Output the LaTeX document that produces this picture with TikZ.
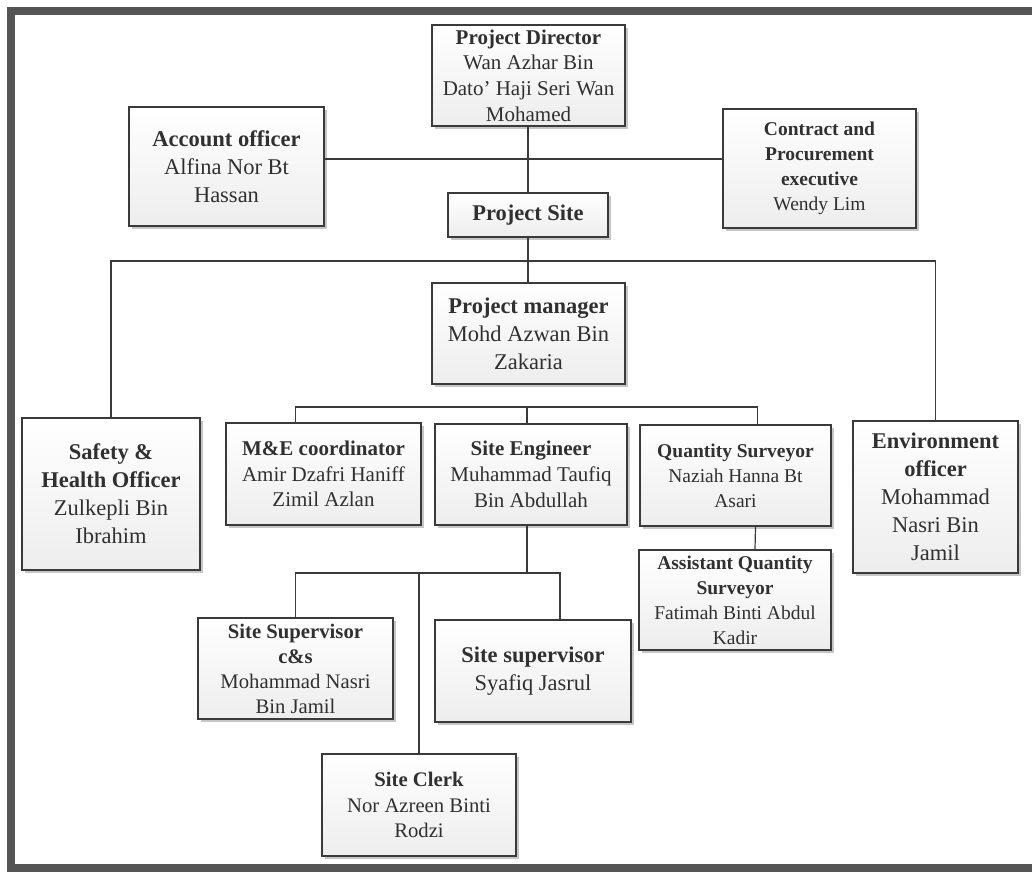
\documentclass[tikz,border=0pt]{standalone}
\usepackage{fontspec}
\setmainfont{Liberation Serif}
\usetikzlibrary{shadows}

\definecolor{framegray}{HTML}{555555}
\definecolor{boxline}{HTML}{3A3A3A}
\definecolor{textgray}{HTML}{303030}

\begin{document}
\begin{tikzpicture}[x=1pt,y=-1pt,
		orgbox/.style={draw=boxline,line width=1.3pt,top color=white,bottom color=gray!14,
			drop shadow={shadow xshift=3pt,shadow yshift=-3pt,opacity=0.45},
			align=center,inner sep=0pt,text=textgray},
		bigfont/.style={font=\fontsize{22.5}{28}\selectfont},
		midfont/.style={font=\fontsize{21}{25.7}\selectfont},
		smallfont/.style={font=\fontsize{19.5}{25}\selectfont},
		link/.style={draw=boxline,line width=1.2pt}]
		\useasboundingbox (0,0) rectangle (1032,871);
		\draw[line width=8pt,framegray] (1045,11) -- (11,11) -- (11,868) -- (1045,868);

		% top level
		\node[orgbox,midfont,minimum width=193,minimum height=101] (dir) at (528.5,75.5)
			{\textbf{Project Director}\\Wan Azhar Bin\\Dato’ Haji Seri Wan\\Mohamed};
		\node[orgbox,bigfont,minimum width=195,minimum height=119] (acct) at (226.5,166.5)
			{\textbf{Account officer}\\Alfina Nor Bt\\Hassan};
		\node[orgbox,smallfont,minimum width=193,minimum height=119] (contract) at (819.5,168.5)
			{\textbf{Contract and}\\\textbf{Procurement}\\\textbf{executive}\\Wendy Lim};
		\node[orgbox,bigfont,minimum width=160,minimum height=44] (site) at (528,215)
			{\textbf{Project Site}};
		\node[orgbox,bigfont,minimum width=193,minimum height=101] (pm) at (528.5,333.5)
			{\textbf{Project manager}\\Mohd Azwan Bin\\Zakaria};

		% second level
		\node[orgbox,bigfont,minimum width=178,minimum height=152] (safety) at (111,494)
			{\textbf{Safety \&}\\\textbf{Health Officer}\\Zulkepli Bin\\Ibrahim};
		\node[orgbox,midfont,minimum width=195,minimum height=102] (me) at (323.5,474)
			{\textbf{M\&E coordinator}\\Amir Dzafri Haniff\\Zimil Azlan};
		\node[orgbox,midfont,minimum width=192,minimum height=101] (se) at (531,474.5)
			{\textbf{Site Engineer}\\Muhammad Taufiq\\Bin Abdullah};
		\node[orgbox,smallfont,minimum width=191,minimum height=101] (qs) at (735.5,475.5)
			{\textbf{Quantity Surveyor}\\Naziah Hanna Bt\\Asari};
		\node[orgbox,bigfont,minimum width=165,minimum height=152] (env) at (935.5,497)
			{\textbf{Environment}\\\textbf{officer}\\Mohammad\\Nasri Bin\\Jamil};
		\node[orgbox,smallfont,minimum width=192,minimum height=100] (aqs) at (735,600)
			{\textbf{Assistant Quantity}\\\textbf{Surveyor}\\Fatimah Binti Abdul\\Kadir};

		% site team
		\node[orgbox,font=\fontsize{20.7}{25}\selectfont,minimum width=195,minimum height=101] (cs) at (295.5,668.5)
			{\textbf{Site Supervisor}\\\textbf{c\&s}\\Mohammad Nasri\\Bin Jamil};
		\node[orgbox,bigfont,minimum width=196,minimum height=102] (ss) at (533,671)
			{\textbf{Site supervisor}\\Syafiq Jasrul};
		\node[orgbox,font=\fontsize{20.7}{25.5}\selectfont,minimum width=194,minimum height=102] (clerk) at (419,805)
			{\textbf{Site Clerk}\\Nor Azreen Binti\\Rodzi};

		% bus points
		\coordinate (busA) at (528,159);
		\coordinate (busB) at (528,261);
		\coordinate (busC) at (527,407);
		\coordinate (busD) at (527,573);

		\draw[link] (site.north) -- (site.north |- dir.south);
		\draw[link] (acct.east |- busA) -- (contract.west |- busA);
		\draw[link] (site.south) -- (site.south |- pm.north);
		\draw[link] (safety.north) |- (busB) -| (env.north);
		\draw[link] ([xshift=-28pt]me.north) |- (busC) -| ([xshift=22pt]qs.north);
		\draw[link] (busC) -- (busC |- se.north);
		\draw[link] ([xshift=20pt]qs.south) -- ([xshift=20pt]aqs.north);
		\draw[link] (busD |- se.south) -- (busD);
		\draw[link] (cs.north) |- (busD) -| ([xshift=27pt]ss.north);
		\draw[link] (clerk.north) -- (clerk.north |- busD);
	\end{tikzpicture}
\end{document}
